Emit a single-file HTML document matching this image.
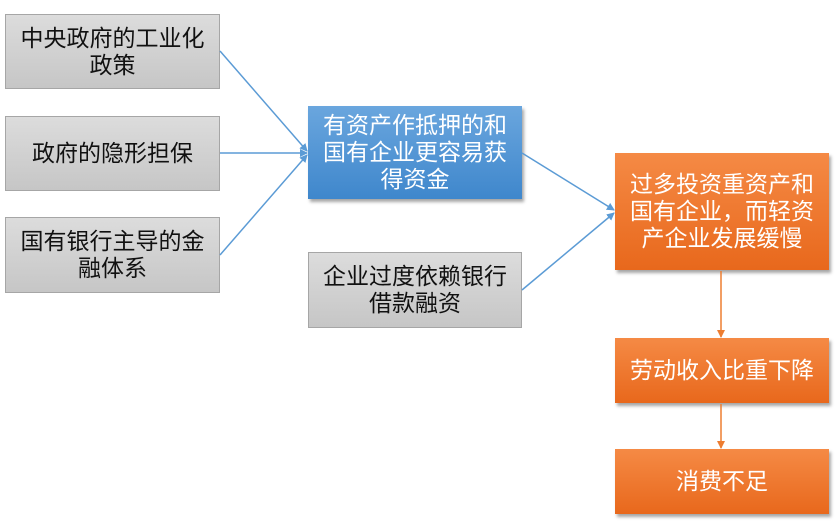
<!DOCTYPE html>
<html><head><meta charset="utf-8"><style>
body{margin:0;width:835px;height:526px;background:#fff;position:relative;overflow:hidden;font-family:"Liberation Sans","Noto Sans CJK SC",sans-serif}
.b{position:absolute;box-sizing:border-box;display:flex;align-items:center;justify-content:center;text-align:center;font-size:23px;line-height:27px;padding:0 3px;white-space:nowrap}
.g{background:linear-gradient(#dcdcdc,#c6c6c6);border:1px solid #a6a6a6;color:#111}
.bl{background:linear-gradient(#6aa6de,#3f87cc);color:#fff;box-shadow:2px 3px 3px rgba(0,0,0,.35)}
.o{background:linear-gradient(#f58a45,#e8681c);color:#fff;box-shadow:2px 3px 3px rgba(0,0,0,.35)}
svg{position:absolute;left:0;top:0}
</style></head><body>
<div class="b g" style="left:5px;top:14px;width:215px;height:75px">中央政府的工业化<br>政策</div>
<div class="b g" style="left:5px;top:116px;width:215px;height:75px">政府的隐形担保</div>
<div class="b g" style="left:5px;top:217px;width:215px;height:76px">国有银行主导的金<br>融体系</div>
<div class="b bl" style="left:308px;top:106px;width:214px;height:93px">有资产作抵押的和<br>国有企业更容易获<br>得资金</div>
<div class="b g" style="left:308px;top:252px;width:214px;height:76px">企业过度依赖银行<br>借款融资</div>
<div class="b o" style="left:615px;top:153px;width:214px;height:117px">过多投资重资产和<br>国有企业，而轻资<br>产企业发展缓慢</div>
<div class="b o" style="left:615px;top:338px;width:214px;height:65px">劳动收入比重下降</div>
<div class="b o" style="left:615px;top:449px;width:214px;height:65px">消费不足</div>
<svg width="835" height="526">
<defs>
<marker id="ab" markerWidth="8" markerHeight="8" refX="7" refY="4" orient="auto" markerUnits="userSpaceOnUse"><path d="M0,0 L8,4 L0,8 Z" fill="#5b9bd5"/></marker>
<marker id="ao" markerWidth="8" markerHeight="8" refX="7" refY="4" orient="auto" markerUnits="userSpaceOnUse"><path d="M0,0 L8,4 L0,8 Z" fill="#ed7d31"/></marker>
</defs>
<g stroke="#5b9bd5" stroke-width="1.5" fill="none" marker-end="url(#ab)">
<line x1="220" y1="51" x2="307" y2="151"/>
<line x1="220" y1="153" x2="307" y2="153"/>
<line x1="220" y1="255" x2="307" y2="155"/>
<line x1="522" y1="153" x2="614" y2="210"/>
<line x1="522" y1="290" x2="614" y2="213"/>
</g>
<g stroke="#ed7d31" stroke-width="1.5" fill="none" marker-end="url(#ao)">
<line x1="721" y1="271" x2="721" y2="337"/>
<line x1="721" y1="404" x2="721" y2="448"/>
</g>
</svg>
</body></html>
